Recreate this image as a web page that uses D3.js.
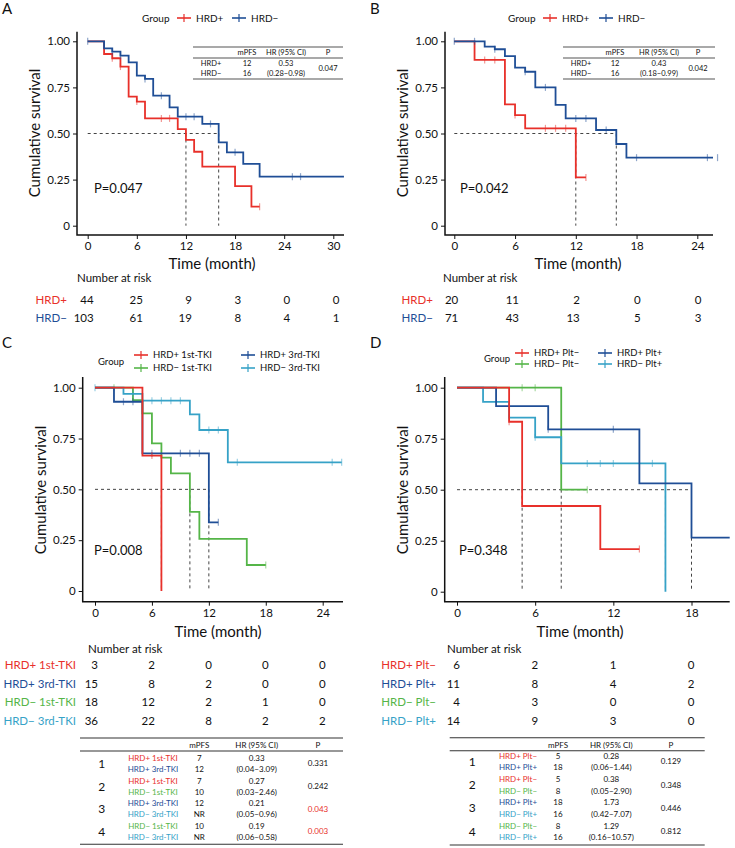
<!DOCTYPE html>
<html>
<head>
<meta charset="utf-8">
<script src="https://cdn.jsdelivr.net/npm/d3@7"></script>
<style>
  body { margin: 0; background: #fff; }
  text { font-family: Lato, "Open Sans", sans-serif; fill: #111; }
</style>
</head>
<body>
<svg id="chart" width="735" height="848"></svg>
<script>
const RED = "#e8302a", BLUE = "#1f4e96", GREEN = "#55b548", CYAN = "#36a2c7";

// ---- panel A: HRD+ vs HRD- ----
const aTicks = [0, 6, 12, 18, 24, 30];
const aPos = [[0,1],[2,0.931],[3,0.908],[4,0.863],[5,0.70],[6,0.673],[7,0.582],[11,0.524],[12,0.465],[13,0.401],[14,0.32],[18,0.215],[20,0.103]];
const aPosEnd = 21, aPosCens = [3, 4, 6, 9, 10, 21];
const aNeg = [[0,1],[2,0.962],[3,0.944],[4,0.922],[5,0.886],[6,0.814],[7,0.796],[8,0.705],[10,0.642],[11,0.591],[14,0.552],[16,0.452],[17,0.398],[19,0.335],[21,0.266]];
const aNegEnd = 31.3, aNegCens = [0, 3, 4, 7, 9, 12, 13, 15, 18, 25, 26];
const aMedians = [12, 16];
const aRiskPos = [44, 25, 9, 3, 0, 0];
const aRiskNeg = [103, 61, 19, 8, 4, 1];

// ---- panel B ----
const bTicks = [0, 6, 12, 18, 24];
const bPos = [[0,1],[2,0.899],[5,0.658],[6,0.60],[7,0.528],[12,0.262]];
const bPosEnd = 13, bPosCens = [3, 4, 6, 9, 10, 11, 13];
const bNeg = [[0,1],[3,0.971],[4,0.957],[5,0.92],[6,0.857],[7,0.835],[8,0.75],[10,0.655],[11,0.582],[14,0.519],[16,0.443],[17,0.369]];
const bNegEnd = 26, bNegCens = [0, 2, 4, 7, 9, 12, 13, 15, 18, 25, 26];
const bMedians = [12, 16];
const bRiskPos = [20, 11, 2, 0, 0];
const bRiskNeg = [71, 43, 13, 5, 3];

// ---- panel C: TKI subgroups ----
const cTicks = [0, 6, 12, 18, 24];
const cPos1 = [[0,1],[5,0.666],[7,0]];
const cPos1End = 7, cPos1Cens = [6];
const cPos3 = [[0,1],[2,0.931],[5,0.677],[12,0.338]];
const cPos3End = 13, cPos3Cens = [3, 4, 6, 9, 10, 11, 13];
const cNeg1 = [[0,1],[4,0.939],[5,0.874],[6,0.726],[7,0.656],[8,0.579],[10,0.389],[11,0.256],[16,0.128]];
const cNeg1End = 18, cNeg1Cens = [2, 18];
const cNeg3 = [[0,1],[3,0.97],[5,0.936],[10,0.869],[11,0.792],[14,0.633]];
const cNeg3End = 26, cNeg3Cens = [0, 4, 6, 7, 8, 9, 12, 13, 15, 25, 26];
const cMedians = [7, 10, 12];
const cRisk = [[3,2,0,0,0],[15,8,2,0,0],[18,12,2,1,0],[36,22,8,2,2]];

// ---- panel D: platinum subgroups ----
const dTicks = [0, 6, 12, 18];
const dPosM = [[0,1],[4,0.833],[5,0.42],[11,0.209]];
const dPosMEnd = 14, dPosMCens = [4, 14];
const dPosP = [[0,1],[3,0.91],[7,0.796],[14,0.531],[18,0.265]];
const dPosPEnd = 21.1, dPosPCens = [7, 12];
const dNegM = [[0,1],[8,0.5]];
const dNegMEnd = 10, dNegMCens = [5, 6, 10];
const dNegP = [[0,1],[2,0.931],[4,0.853],[6,0.757],[8,0.629],[16,0]];
const dNegPEnd = 16, dNegPCens = [4, 6, 10, 11, 12, 15];
const dMedians = [5, 8, 16, 18];
const dRisk = [[6,2,1,0],[11,8,4,2],[4,3,0,0],[14,9,3,0]];

// ---- comparison tables ----
const cGroups = ["HRD+ 1st-TKI", "HRD+ 3rd-TKI", "HRD\u2212 1st-TKI", "HRD\u2212 3rd-TKI"];
const cColors = [RED, BLUE, GREEN, CYAN];
const cPairs = [[0,1],[0,2],[1,3],[2,3]];
const cMpfs = [["7","12"],["7","10"],["12","NR"],["10","NR"]];
const cHR = ["0.33", "0.27", "0.21", "0.19"];
const cCI = ["(0.04\u22123.09)", "(0.03\u22122.46)", "(0.05\u22120.96)", "(0.06\u22120.58)"];
const cP = ["0.331", "0.242", "0.043", "0.003"];

const dGroups = ["HRD+ Plt\u2212", "HRD+ Plt+", "HRD\u2212 Plt\u2212", "HRD\u2212 Plt+"];
const dColors = [RED, BLUE, GREEN, CYAN];
const dPairs = [[0,1],[0,2],[1,3],[2,3]];
const dMpfs = [["5","18"],["5","8"],["18","16"],["8","16"]];
const dHR = ["0.28", "0.38", "1.73", "1.29"];
const dCI = ["(0.06\u22121.44)", "(0.05\u22122.90)", "(0.42\u22127.07)", "(0.16\u221210.57)"];
const dP = ["0.129", "0.348", "0.446", "0.812"];

const svg = d3.select("#chart");

function drawCurve(g, x, y, steps, end, cens, color) {
  const pts = steps.concat([[end, steps[steps.length - 1][1]]]);
  g.append("path").datum(pts)
    .attr("d", d3.line().x(d => x(d[0])).y(d => y(d[1])).curve(d3.curveStepAfter))
    .attr("fill", "none").attr("stroke", color).attr("stroke-width", 1.8);
  const survAt = t => { let s = 1; steps.forEach(d => { if (d[0] <= t) s = d[1]; }); return s; };
  g.selectAll(null).data(cens).join("line")
    .attr("x1", d => x(d)).attr("x2", d => x(d))
    .attr("y1", d => y(survAt(d)) - 3.5).attr("y2", d => y(survAt(d)) + 3.5)
    .attr("stroke", color).attr("stroke-opacity", 0.5).attr("stroke-width", 1.2);
}

function drawPanel(p) {
  const g = svg.append("g");
  const x = d3.scaleLinear().domain([0, p.tickMax]).range([p.x0, p.x1]);
  const y = d3.scaleLinear().domain([0, 1]).range([p.y0, p.y1]);

  // axes
  const ya = g.append("g").attr("transform", `translate(${p.axisX},0)`)
    .call(d3.axisLeft(y).tickValues([0, 0.25, 0.5, 0.75, 1])
      .tickFormat(d => d === 0 ? "0" : d3.format(".2f")(d)).tickSize(4).tickPadding(3));
  const xa = g.append("g").attr("transform", `translate(0,${p.axisY})`)
    .call(d3.axisBottom(x).tickValues(p.ticks).tickSize(4).tickPadding(3));
  [ya, xa].forEach(a => {
    a.select(".domain").remove();
    a.selectAll("text").style("font-family", "Lato, sans-serif").style("font-size", "11.5px").attr("fill", "#111");
    a.selectAll("line").attr("stroke", "#111");
  });
  g.append("path").attr("d", `M${p.axisX},${p.axisTop}V${p.axisY}H${p.xEnd}`)
    .attr("fill", "none").attr("stroke", "#111").attr("stroke-width", 1.5);

  // median guides
  const mg = g.append("g").attr("stroke", "#444").attr("stroke-width", 1).attr("stroke-dasharray", "3,3");
  mg.append("line").attr("x1", x(0)).attr("x2", x(d3.max(p.medians))).attr("y1", y(0.5)).attr("y2", y(0.5));
  mg.selectAll(null).data(p.medians).join("line")
    .attr("x1", d => x(d)).attr("x2", d => x(d)).attr("y1", y(0.5)).attr("y2", y(0));

  // curves
  const cg = g.append("g");
  p.curves.forEach(c => drawCurve(cg, x, y, c.steps, Math.min(c.end, x.invert(p.xEnd)), c.cens, c.color));

  // texts
  g.append("text").attr("x", p.letter[0]).attr("y", p.letter[1]).text(p.letterText).style("font-size", "15px");
  g.append("text").attr("x", p.pPos[0]).attr("y", p.pPos[1]).text(p.pText).style("font-size", "13px");
  g.append("text").attr("transform", `translate(${p.yTitle[0]},${p.yTitle[1]}) rotate(-90)`)
    .attr("text-anchor", "middle").text("Cumulative survival").style("font-size", "15px");
  g.append("text").attr("x", p.xTitle[0]).attr("y", p.xTitle[1]).attr("text-anchor", "middle")
    .text("Time (month)").style("font-size", "15px");

  // number at risk
  g.append("text").attr("x", p.narPos[0]).attr("y", p.narPos[1]).text("Number at risk").style("font-size", "11.5px");
  p.risk.forEach((row, i) => {
    const ry = p.riskY[i];
    g.append("text").attr("x", p.riskLabelX).attr("y", ry).attr("text-anchor", "end")
      .attr("fill", p.riskColors[i]).style("fill", p.riskColors[i]).style("font-size", "11.5px").text(p.riskLabels[i]);
    g.selectAll(null).data(row).join("text")
      .attr("x", (d, j) => x(p.ticks[j]) + p.riskDx).attr("y", ry).attr("text-anchor", "end")
      .style("font-size", "11.5px").text(d => d);
  });

  // legend
  const lg = g.append("g").style("font-size", p.legendSize + "px");
  lg.append("text").attr("x", p.groupPos[0]).attr("y", p.groupPos[1]).attr("dy", "0.35em").text("Group");
  p.legend.forEach(it => {
    lg.append("line").attr("x1", it.x).attr("x2", it.x + 14).attr("y1", it.y).attr("y2", it.y)
      .attr("stroke", it.color).attr("stroke-width", 1.6);
    lg.append("line").attr("x1", it.x + 7).attr("x2", it.x + 7).attr("y1", it.y - 4).attr("y2", it.y + 4)
      .attr("stroke", it.color).attr("stroke-width", 1.2);
    lg.append("text").attr("x", it.x + 19).attr("y", it.y).attr("dy", "0.35em").text(it.label);
  });
  return g;
}

function miniTable(g, t) {
  const fs = "7.5px";
  const ln = (yy) => g.append("line").attr("x1", t.x1).attr("x2", t.x2).attr("y1", yy).attr("y2", yy)
    .attr("stroke", "#555").attr("stroke-width", 1.1);
  [t.yTop, t.yTop + 11, t.yTop + 32].forEach(ln);
  const txt = (xx, yy, s) => g.append("text").attr("x", xx).attr("y", yy).attr("dy", "0.35em")
    .attr("text-anchor", "middle").style("font-size", fs).text(s);
  txt(t.cols[1], t.yTop + 5.5, "mPFS"); txt(t.cols[2], t.yTop + 5.5, "HR (95% CI)"); txt(t.cols[3], t.yTop + 5.5, "P");
  txt(t.cols[0], t.yTop + 16.5, "HRD+"); txt(t.cols[0], t.yTop + 26, "HRD\u2212");
  txt(t.cols[1], t.yTop + 16.5, t.mpfs[0]); txt(t.cols[1], t.yTop + 26, t.mpfs[1]);
  txt(t.cols[2], t.yTop + 16.5, t.hr); txt(t.cols[2], t.yTop + 26, t.ci);
  txt(t.cols[3], t.yTop + 21, t.p);
}

function bigTable(t) {
  const g = svg.append("g");
  [t.yTop, t.yHead, t.yBot].forEach(yy => g.append("line").attr("x1", t.x1).attr("x2", t.x2)
    .attr("y1", yy).attr("y2", yy).attr("stroke", "#333").attr("stroke-width", 1.1));
  const txt = (xx, yy, s, fs, col) => g.append("text").attr("x", xx).attr("y", yy).attr("dy", "0.35em")
    .attr("text-anchor", "middle").style("font-size", fs).style("fill", col || "#111").text(s);
  txt(t.cols[2], t.yHeadText, "mPFS", "8px"); txt(t.cols[3], t.yHeadText, "HR (95% CI)", "8px"); txt(t.cols[4], t.yHeadText, "P", "8px");
  t.pairs.forEach((pr, i) => {
    const ya = t.rows[2 * i], yb = t.rows[2 * i + 1], ym = (ya + yb) / 2;
    txt(t.cols[0], ym, String(i + 1), "12px");
    txt(t.cols[1], ya, t.groups[pr[0]], "8px", t.colors[pr[0]]);
    txt(t.cols[1], yb, t.groups[pr[1]], "8px", t.colors[pr[1]]);
    txt(t.cols[2], ya, t.mpfs[i][0], "8px"); txt(t.cols[2], yb, t.mpfs[i][1], "8px");
    txt(t.cols[3], ya, t.hr[i], "8px"); txt(t.cols[3], yb, t.ci[i], "8px");
    txt(t.cols[4], ym, t.p[i], "8px", t.pColors[i]);
  });
}

// panel A
const gA = drawPanel({
  ticks: aTicks, tickMax: 30, x0: 87.7, x1: 333.3, y0: 225.7, y1: 41.3,
  axisX: 77, axisY: 235, axisTop: 31.7, xEnd: 344, medians: aMedians,
  curves: [{steps: aPos, end: aPosEnd, cens: aPosCens, color: RED}, {steps: aNeg, end: aNegEnd, cens: aNegCens, color: BLUE}],
  letter: [2, 14], letterText: "A", pPos: [94, 193], pText: "P=0.047",
  yTitle: [40, 133], xTitle: [212, 269],
  narPos: [77, 282], risk: [aRiskPos, aRiskNeg], riskY: [304, 322], riskLabelX: 67, riskDx: 6,
  riskLabels: ["HRD+", "HRD\u2212"], riskColors: [RED, BLUE],
  legendSize: 10, groupPos: [142, 18],
  legend: [{x: 177, y: 18, color: RED, label: "HRD+"}, {x: 232, y: 18, color: BLUE, label: "HRD\u2212"}]
});
miniTable(gA, {x1: 193, x2: 343, yTop: 47, cols: [211, 247, 286, 328], mpfs: ["12", "16"], hr: "0.53", ci: "(0.28\u22120.98)", p: "0.047"});

// panel B
const gB = drawPanel({
  ticks: bTicks, tickMax: 24, x0: 454.3, x1: 697.3, y0: 225.7, y1: 41.3,
  axisX: 445, axisY: 235, axisTop: 31.7, xEnd: 713, medians: bMedians,
  curves: [{steps: bPos, end: bPosEnd, cens: bPosCens, color: RED}, {steps: bNeg, end: bNegEnd, cens: bNegCens, color: BLUE}],
  letter: [370, 14], letterText: "B", pPos: [460, 193], pText: "P=0.042",
  yTitle: [408, 133], xTitle: [578, 269],
  narPos: [443, 282], risk: [bRiskPos, bRiskNeg], riskY: [304, 322], riskLabelX: 433, riskDx: 4,
  riskLabels: ["HRD+", "HRD\u2212"], riskColors: [RED, BLUE],
  legendSize: 10, groupPos: [508, 18],
  legend: [{x: 543, y: 18, color: RED, label: "HRD+"}, {x: 599, y: 18, color: BLUE, label: "HRD\u2212"}]
});
miniTable(gB, {x1: 563, x2: 715, yTop: 47, cols: [581, 615, 659, 698], mpfs: ["12", "16"], hr: "0.43", ci: "(0.18\u22120.99)", p: "0.042"});

// panel C
drawPanel({
  ticks: cTicks, tickMax: 24, x0: 95, x1: 322.7, y0: 591, y1: 387.7,
  axisX: 82.7, axisY: 601.7, axisTop: 377, xEnd: 343, medians: cMedians,
  curves: [
    {steps: cNeg1, end: cNeg1End, cens: cNeg1Cens, color: GREEN},
    {steps: cNeg3, end: cNeg3End, cens: cNeg3Cens, color: CYAN},
    {steps: cPos3, end: cPos3End, cens: cPos3Cens, color: BLUE},
    {steps: cPos1, end: cPos1End, cens: cPos1Cens, color: RED}],
  letter: [2, 348], letterText: "C", pPos: [94, 555], pText: "P=0.008",
  yTitle: [46, 490], xTitle: [218, 637],
  narPos: [88, 653], risk: cRisk, riskY: [669, 688, 706, 725], riskLabelX: 76, riskDx: 3,
  riskLabels: cGroups, riskColors: cColors,
  legendSize: 9.5, groupPos: [98, 362],
  legend: [
    {x: 134, y: 355, color: RED, label: cGroups[0]}, {x: 134, y: 368, color: GREEN, label: cGroups[2]},
    {x: 241, y: 355, color: BLUE, label: cGroups[1]}, {x: 241, y: 368, color: CYAN, label: cGroups[3]}]
});
bigTable({x1: 80, x2: 343, yTop: 738, yHead: 751, yBot: 844.3, yHeadText: 745,
  cols: [101.7, 153, 199.3, 256.7, 318], rows: [757.7, 769.3, 780.7, 792.3, 803.3, 814.3, 825.7, 837],
  groups: cGroups, colors: cColors, pairs: cPairs, mpfs: cMpfs, hr: cHR, ci: cCI, p: cP,
  pColors: ["#111", "#111", RED, RED]});

// panel D
drawPanel({
  ticks: dTicks, tickMax: 18, x0: 457, x1: 691.5, y0: 591.7, y1: 387.7,
  axisX: 444.7, axisY: 601.7, axisTop: 377, xEnd: 729.7, medians: dMedians,
  curves: [
    {steps: dNegM, end: dNegMEnd, cens: dNegMCens, color: GREEN},
    {steps: dNegP, end: dNegPEnd, cens: dNegPCens, color: CYAN},
    {steps: dPosP, end: dPosPEnd, cens: dPosPCens, color: BLUE},
    {steps: dPosM, end: dPosMEnd, cens: dPosMCens, color: RED}],
  letter: [370, 348], letterText: "D", pPos: [459, 555], pText: "P=0.348",
  yTitle: [408, 490], xTitle: [580, 637],
  narPos: [447, 653], risk: dRisk, riskY: [669, 688, 706, 725], riskLabelX: 436, riskDx: 3,
  riskLabels: dGroups, riskColors: dColors,
  legendSize: 9.5, groupPos: [484, 359],
  legend: [
    {x: 515, y: 353, color: RED, label: dGroups[0]}, {x: 515, y: 364, color: GREEN, label: dGroups[2]},
    {x: 598, y: 353, color: BLUE, label: dGroups[1]}, {x: 598, y: 364, color: CYAN, label: dGroups[3]}]
});
bigTable({x1: 449.7, x2: 704.7, yTop: 737.7, yHead: 750.7, yBot: 845, yHeadText: 745,
  cols: [472.3, 518, 558, 611.3, 671], rows: [755.7, 767.3, 779, 790.7, 802.3, 814, 825.7, 837.3],
  groups: dGroups, colors: dColors, pairs: dPairs, mpfs: dMpfs, hr: dHR, ci: dCI, p: dP,
  pColors: ["#111", "#111", "#111", "#111"]});
</script>
</body>
</html>
